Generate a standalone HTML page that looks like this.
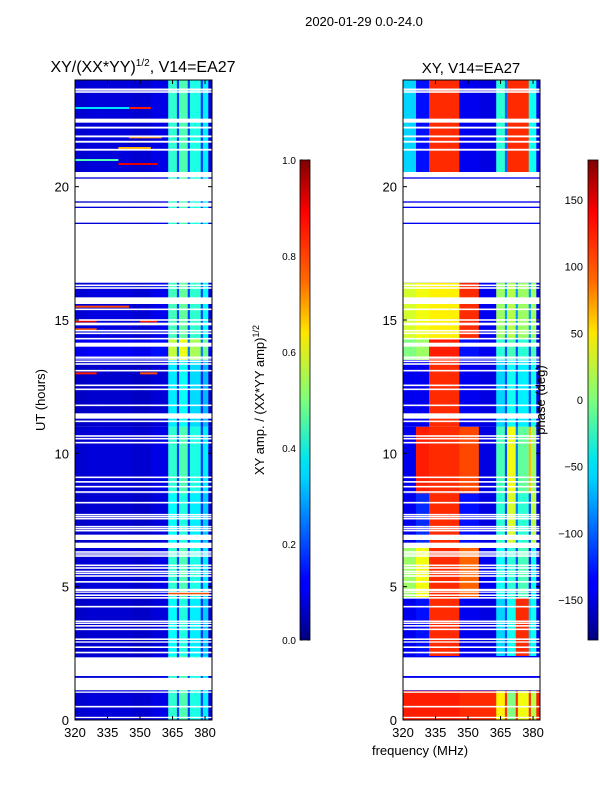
<!DOCTYPE html>
<html><head><meta charset="utf-8">
<style>
body{margin:0;background:#fff;}
svg text{font-family:"Liberation Sans",sans-serif;fill:#000;}
</style></head>
<body>
<svg id="fig" width="600" height="800" xmlns="http://www.w3.org/2000/svg">
<defs>
<linearGradient id="jet" x1="0" y1="1" x2="0" y2="0">
<stop offset="0" stop-color="#00007f"/><stop offset="0.11" stop-color="#0000ff"/>
<stop offset="0.125" stop-color="#0000ff"/><stop offset="0.34" stop-color="#00d4ff"/>
<stop offset="0.375" stop-color="#00e5f0"/><stop offset="0.5" stop-color="#7dff7a"/>
<stop offset="0.64" stop-color="#ffe600"/><stop offset="0.75" stop-color="#ff6800"/>
<stop offset="0.89" stop-color="#ff0000"/><stop offset="1" stop-color="#7f0000"/>
</linearGradient>
</defs>
<text x="364" y="26" font-size="13" text-anchor="middle">2020-01-29 0.0-24.0</text>
<text x="143" y="72" font-size="16" text-anchor="middle">XY/(XX*YY)<tspan font-size="10" dy="-6">1/2</tspan><tspan dy="6">, V14=EA27</tspan></text>
<text x="471" y="73" font-size="15" text-anchor="middle">XY, V14=EA27</text>
<g id="amp"></g>
<g id="pha"></g>
<g id="axes"></g>
<text x="45" y="400" font-size="13" text-anchor="middle" transform="rotate(-90 45 400)">UT (hours)</text>
<text x="420" y="755" font-size="13" text-anchor="middle">frequency (MHz)</text>
<rect x="300" y="160" width="10" height="480" fill="url(#jet)" stroke="#000" stroke-width="0.8"/>
<rect x="588" y="160" width="10" height="480" fill="url(#jet)" stroke="#000" stroke-width="0.8"/>
<text x="264" y="400" font-size="13" text-anchor="middle" transform="rotate(-90 264 400)">XY amp. / (XX*YY amp)<tspan font-size="9" dy="-5">1/2</tspan></text>
<text x="545" y="400" font-size="13" text-anchor="middle" transform="rotate(-90 545 400)">phase (deg)</text>
</svg>
<script>
// ---- data ----
const freqEdges = [320, 326, 332, 346, 355, 363, 367, 368, 372, 373, 378, 379, 381.5, 383.2];
const ampSeg = [0.08, 0.09, 0.09, 0.08, 0.10, 0.42, 0.18, 0.45, 0.18, 0.40, 0.18, 0.36, 0.08];
const timeBands = [0, 1.1, 2.4, 4.6, 6.5, 8.5, 11, 13.5, 14.3, 16.4, 20.5, 24];
const ampBandScale = [1.0, 1.0, 0.9, 1.0, 0.9, 1.0, 0.85, 1.35, 1.05, 1.0, 1.0];
const phaseBands = [
 [125, 125, 125, 120, 120, 50, 120, 0, 120, 40, 120, 20, 125],
 [-140, -140, -140, -140, -140, -140, -140, -140, -140, -140, -140, -140, -140],
 [-140, -130, 120, -140, -145, -60, -110, -40, 120, 120, -60, -40, -140],
 [10, 40, 120, 100, -140, -40, -110, -30, -110, -20, -130, -40, -140],
 [-140, -120, 120, -130, -145, -30, -110, 30, -90, -30, -110, 20, -140],
 [-140, 125, 120, 110, -145, -20, -110, 40, -90, -10, 70, 10, -140],
 [-140, -140, 120, -140, -145, -60, -110, -40, -110, -50, -110, -40, -140],
 [0, 10, 125, -130, -140, -30, -110, -20, -110, -30, -110, -20, -140],
 [30, 40, 50, 120, -140, 10, -80, 20, -80, 10, -80, 10, -140],
 [-140, -140, -140, -140, -140, -140, -140, -140, -140, -140, -140, -140, -140],
 [-60, -130, 120, -140, -145, -30, -100, 120, 120, 120, -40, -40, -140]
];
const streaks = [[22.95, 320, 345, 0.35], [22.95, 345, 355, 0.85], [21.85, 345, 360, 0.75], [21.45, 340, 355, 0.7],
 [21.0, 320, 340, 0.45], [20.85, 340, 358, 0.9], [15.5, 320, 345, 0.8], [14.95, 320, 330, 0.9], [14.95, 350, 358, 0.85],
 [14.65, 320, 330, 0.8], [14.1, 320, 330, 0.6], [13.0, 320, 330, 0.85], [13.0, 350, 358, 0.8], [4.75, 363, 382, 0.8]];
const gaps = [[23.6,23.68],[23.52,23.58],[22.4,22.55],[22.18,22.25],[21.85,21.92],[21.65,21.72],[21.35,21.42],
 [20.35,20.55],[19.45,20.3],[19.25,19.4],[18.65,19.2],[16.4,18.6],[16.27,16.33],[16.17,16.23],[15.6,15.85],[15.37,15.43],
 [14.97,15.03],[14.8,14.9],[14.57,14.63],[14.47,14.53],[14.27,14.33],[14.0,14.15],[13.57,13.63],[13.52,13.56],[13.42,13.48],
 [13.32,13.38],[13.07,13.13],[12.52,12.58],[12.37,12.43],[11.77,11.83],[11.3,11.5],[11.17,11.23],[10.62,10.68],[10.52,10.58],
 [10.37,10.43],[9.07,9.13],[8.9,8.96],[8.72,8.78],[8.52,8.58],[8.12,8.18],[7.67,7.73],[7.6,7.65],[7.52,7.58],[7.22,7.28],
 [7.15,7.2],[7.07,7.13],[6.75,6.95],[6.45,6.65],[6.27,6.33],[6.2,6.25],[6.12,6.18],[5.77,5.83],[5.67,5.73],[5.55,5.6],
 [5.47,5.53],[5.37,5.43],[5.15,5.21],[4.82,4.92],[4.77,4.8],[4.65,4.71],[4.55,4.61],[4.22,4.28],[3.67,3.73],[3.6,3.65],
 [3.5,3.56],[3.37,3.43],[3.0,3.06],[2.9,2.95],[2.7,2.76],[2.5,2.56],[1.65,2.35],[1.12,1.58],[1.02,1.07],[0.47,0.53],[0.07,0.12]];
const yTicks = [0, 5, 10, 15, 20];
const xTicks = [320, 335, 350, 365, 380];
const ampTicks = [0.0, 0.2, 0.4, 0.6, 0.8, 1.0];
const phaseTicks = [-150, -100, -50, 0, 50, 100, 150];

// ---- scales ----
const F0 = 320, F1 = 383.2, T1 = 24;
const panels = [{x0: 75, id: 'amp'}, {x0: 403, id: 'pha'}];
const W = 137, Y0 = 80, H = 640;
const xS = (f, x0) => x0 + (f - F0) / (F1 - F0) * W;
const yS = t => Y0 + H - t / T1 * H;
const NS = 'http://www.w3.org/2000/svg';
function jet(v) {
  v = Math.max(0, Math.min(1, v));
  const r = Math.max(0, Math.min(1, 1.5 - Math.abs(4 * v - 3)));
  const g = Math.max(0, Math.min(1, 1.5 - Math.abs(4 * v - 2)));
  const b = Math.max(0, Math.min(1, 1.5 - Math.abs(4 * v - 1)));
  return `rgb(${Math.round(r*255)},${Math.round(g*255)},${Math.round(b*255)})`;
}
function mk(tag, attrs, parent) {
  const e = document.createElementNS(NS, tag);
  for (const k in attrs) e.setAttribute(k, attrs[k]);
  parent.appendChild(e); return e;
}
const ampG = document.getElementById('amp'), phaG = document.getElementById('pha');
for (let b = 0; b < timeBands.length - 1; b++) {
  const ya = yS(timeBands[b + 1]), yb = yS(timeBands[b]);
  for (let s = 0; s < freqEdges.length - 1; s++) {
    const r1 = mk('rect', {x: xS(freqEdges[s], 75), y: ya, width: xS(freqEdges[s+1], 75) - xS(freqEdges[s], 75) + 0.3, height: yb - ya,
      fill: jet(ampSeg[s] * ampBandScale[b])}, ampG);
    
    
    const r2 = mk('rect', {x: xS(freqEdges[s], 403), y: ya, width: xS(freqEdges[s+1], 403) - xS(freqEdges[s], 403) + 0.3, height: yb - ya,
      fill: jet((phaseBands[b][s] + 180) / 360)}, phaG);
    
    
  }
}
streaks.forEach(s => {
  const r = mk('rect', {x: xS(s[1], 75), y: yS(s[0]) - 1, width: xS(s[2], 75) - xS(s[1], 75), height: 2, fill: jet(s[3])}, ampG);
  
  
});
panels.forEach(p => {
  const g = document.getElementById(p.id);
  gaps.forEach(gp => {
    const r = mk('rect', {x: p.x0, y: yS(gp[1]), width: W, height: yS(gp[0]) - yS(gp[1]), fill: '#fff'}, g);
    
    
  });
});
const ax = document.getElementById('axes');
panels.forEach(p => {
  const fr = mk('rect', {x: p.x0, y: Y0, width: W, height: H, fill: 'none', stroke: '#000', 'stroke-width': 1}, ax);
  
  
  yTicks.forEach(t => {
    const y = yS(t);
    mk('line', {x1: p.x0, x2: p.x0 + 4, y1: y, y2: y, stroke: '#000'}, ax);
    mk('line', {x1: p.x0 + W, x2: p.x0 + W - 4, y1: y, y2: y, stroke: '#000'}, ax);
    const l = mk('text', {x: p.x0 - 6, y: y + 5, 'font-size': 13, 'text-anchor': 'end'}, ax);
    l.textContent = t;
    
    
  });
  xTicks.forEach(f => {
    const x = xS(f, p.x0);
    mk('line', {x1: x, x2: x, y1: Y0 + H, y2: Y0 + H - 4, stroke: '#000'}, ax);
    mk('line', {x1: x, x2: x, y1: Y0, y2: Y0 + 4, stroke: '#000'}, ax);
    const l = mk('text', {x: x, y: 737, 'font-size': 13, 'text-anchor': 'middle'}, ax);
    l.textContent = f;
    
    
  });
});
ampTicks.forEach(v => {
  const y = 640 - v * 480;
  mk('line', {x1: 300, x2: 303, y1: y, y2: y, stroke: '#000'}, ax);
  mk('line', {x1: 310, x2: 307, y1: y, y2: y, stroke: '#000'}, ax);
  const l = mk('text', {x: 296, y: y + 4, 'font-size': 10, 'text-anchor': 'end'}, ax);
  l.textContent = v.toFixed(1);
  
  
});
phaseTicks.forEach(v => {
  const y = 400 - v * 480 / 360;
  mk('line', {x1: 588, x2: 591, y1: y, y2: y, stroke: '#000'}, ax);
  mk('line', {x1: 598, x2: 595, y1: y, y2: y, stroke: '#000'}, ax);
  const l = mk('text', {x: 583, y: y + 4, 'font-size': 11, 'text-anchor': 'end'}, ax);
  l.textContent = v < 0 ? '\u2212' + (-v) : v;
  
  
});
</script>
</body></html>
